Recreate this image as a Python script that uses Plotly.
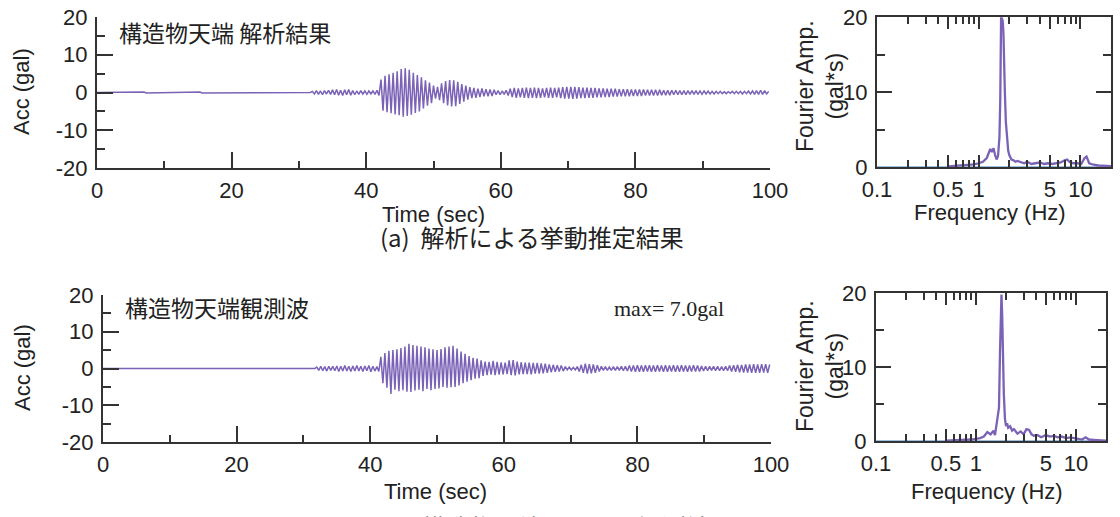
import plotly.graph_objects as go
import numpy as np

# ---------------- data ----------------
# acceleration time histories (gal); quiet part then oscillating part sampled every ACC_DT s from ACC_T0
PRE_T = [0.0, 7.0, 7.3, 15.3, 15.6, 31.7]
PRE_ACC_TOP = [0.0, 0.1, -0.1, 0.1, -0.1, 0.0]
PRE_ACC_BOT = [0.0, 0.0, 0.0, 0.0, 0.0, 0.0]
ACC_T0 = 32.0
ACC_DT = 0.3

ACC_TOP = [
    0.3, -0.4, 0.5, -0.5, 0.4, -0.6, 0.5, -0.4, 0.6, -0.5,
    0.7, -0.6, 0.8, -0.7, 0.6, -0.8, 0.7, -0.6, 0.8, -0.7,
    0.5, -0.6, 0.4, -0.5, 0.5, -0.4, 0.4, -0.5, 0.4, -0.4,
    0.4, -0.5, 0.6, -0.8, 3.4, -4.8, 4.4, -5.2, 4.8, -5.5,
    5.2, -5.8, 5.6, -6.0, 6.2, -6.4, 6.4, -6.2, 6.0, -5.9,
    5.2, -5.4, 4.6, -5.0, 4.0, -4.2, 3.2, -3.5, 2.6, -2.8,
    1.8, -1.6, 1.5, -2.0, 2.4, -2.8, 3.0, -3.4, 3.3, -3.7,
    3.2, -3.6, 2.8, -3.0, 2.2, -2.4, 1.8, -1.9, 1.4, -1.5,
    1.2, -1.4, 1.0, -1.2, 1.1, -1.0, 0.9, -1.0, 0.8, -0.9,
    0.7, -0.6, 0.5, -0.6, 0.4, -0.5, 0.6, -0.8, 1.0, -1.2,
    1.2, -1.4, 1.1, -1.3, 1.2, -1.4, 1.3, -1.5, 1.2, -1.4,
    1.3, -1.5, 1.2, -1.4, 1.1, -1.3, 1.2, -1.4, 1.3, -1.4,
    1.2, -1.3, 1.3, -1.5, 1.4, -1.6, 1.5, -1.6, 1.5, -1.7,
    1.5, -1.6, 1.4, -1.5, 1.3, -1.5, 1.3, -1.4, 1.2, -1.4,
    1.2, -1.3, 1.1, -1.3, 1.1, -1.2, 1.0, -1.2, 1.0, -1.1,
    1.0, -1.1, 0.9, -1.0, 0.9, -1.0, 0.9, -1.0, 0.8, -0.9,
    0.8, -0.9, 0.8, -0.9, 0.8, -0.8, 0.7, -0.8, 0.7, -0.8,
    0.7, -0.8, 0.7, -0.7, 0.6, -0.7, 0.6, -0.7, 0.6, -0.6,
    0.6, -0.6, 0.5, -0.6, 0.5, -0.6, 0.5, -0.5, 0.5, -0.5,
    0.5, -0.5, 0.4, -0.5, 0.4, -0.4, 0.4, -0.4, 0.3, -0.4,
    0.3, -0.3, 0.3, -0.3, 0.2, -0.3, 0.2, -0.2, 0.3, -0.3,
    0.3, -0.3, 0.3, -0.4, 0.3, -0.3, 0.4, -0.4, 0.4, -0.5,
    0.5, -0.5, 0.6, -0.5, 0.5, -0.4, 0.3,
]

ACC_BOT = [
    0.4, -0.5, 0.6, -0.6, 0.5, -0.7, 0.6, -0.5, 0.6, -0.6,
    0.7, -0.8, 0.6, -0.7, 0.8, -0.7, 0.6, -0.8, 0.7, -0.7,
    0.8, -0.7, 0.6, -0.8, 0.7, -0.6, 0.8, -0.9, 0.6, -0.7,
    0.5, -0.8, 3.2, -4.0, 4.2, -5.2, 4.8, -6.9, 5.0, -5.8,
    5.2, -6.2, 5.6, -5.9, 6.0, -6.3, 6.7, -6.4, 6.4, -6.0,
    6.2, -5.8, 6.0, -6.2, 5.8, -5.6, 5.4, -5.9, 5.2, -5.6,
    5.0, -5.4, 5.3, -5.0, 5.8, -5.2, 6.0, -5.1, 6.2, -5.0,
    5.4, -4.6, 4.6, -4.0, 4.0, -3.6, 3.4, -3.2, 2.9, -2.8,
    2.7, -2.6, 2.2, -2.0, 1.9, -1.8, 1.8, -1.7, 2.1, -1.8,
    1.8, -1.7, 1.7, -1.6, 1.6, -1.5, 2.2, -1.8, 2.3, -1.9,
    1.9, -1.6, 1.7, -1.5, 1.6, -1.5, 1.6, -1.6, 1.5, -1.4,
    1.5, -1.4, 1.4, -1.3, 1.3, -1.2, 1.1, -1.0, 1.0, -0.9,
    0.9, -0.8, 0.8, -0.7, 0.5, -0.4, 0.4, -0.4, 0.3, -0.4,
    0.5, -0.8, 1.0, -1.2, 1.3, -1.4, 1.2, -1.3, 1.1, -1.2,
    0.9, -0.8, 0.6, -0.5, 0.5, -0.5, 0.4, -0.5, 0.5, -0.5,
    0.5, -0.5, 0.6, -0.6, 0.6, -0.7, 0.8, -0.8, 0.8, -0.9,
    0.9, -0.9, 0.8, -0.9, 0.9, -0.8, 0.9, -0.9, 0.8, -0.9,
    0.9, -0.8, 0.8, -0.9, 0.9, -0.9, 0.8, -0.8, 0.9, -0.9,
    0.8, -0.9, 0.9, -0.8, 0.8, -0.9, 0.8, -0.8, 0.9, -0.8,
    0.8, -0.8, 0.7, -0.7, 0.6, -0.6, 0.6, -0.5, 0.6, -0.6,
    0.6, -0.6, 0.5, -0.6, 0.6, -0.6, 0.8, -0.8, 0.9, -0.9,
    1.0, -1.0, 1.0, -1.1, 1.1, -1.1, 1.1, -1.2, 1.2, -1.2,
    1.1, -1.2, 1.2, -1.1, 1.2, -1.2, 1.1,
]

# Fourier amplitude spectra (gal*s)
FREQ_TOP = [0.5, 0.6, 0.7, 0.8, 0.9, 1.0, 1.1, 1.2, 1.25, 1.3, 1.35, 1.4, 1.45, 1.5, 1.55,
            1.6, 1.63, 1.66, 1.69, 1.72, 1.75, 1.78, 1.81, 1.85, 1.9, 1.95, 2.0, 2.05, 2.1,
            2.2, 2.3, 2.4, 2.6, 2.8, 3.0, 3.3, 3.6, 4.0, 4.4, 4.8, 5.3, 5.8, 6.4, 7.0, 7.4,
            7.8, 8.5, 9.3, 10.2, 11.0, 11.5, 12.2, 13.5, 15.0, 17.0, 20.0]
AMP_TOP = [0.08, 0.15, 0.2, 0.3, 0.35, 0.5, 0.7, 1.2, 1.8, 2.4, 2.0, 2.5, 1.6, 1.0, 1.5,
           4.0, 9.0, 19.8, 19.8, 19.5, 18.0, 12.0, 9.8, 6.0, 3.5, 2.2, 1.6, 1.2, 1.0,
           0.9, 0.7, 0.8, 0.6, 0.5, 0.7, 0.4, 0.5, 0.6, 0.4, 0.5, 0.4, 0.5, 0.6, 0.9, 1.0,
           0.7, 0.5, 0.5, 0.4, 1.2, 1.4, 0.5, 0.3, 0.2, 0.2, 0.1]

FREQ_BOT = [0.5, 0.6, 0.7, 0.8, 0.9, 1.0, 1.1, 1.2, 1.3, 1.4, 1.5, 1.55, 1.6, 1.65, 1.7,
            1.74, 1.77, 1.8, 1.83, 1.86, 1.9, 1.95, 2.0, 2.05, 2.1, 2.2, 2.3, 2.4, 2.5, 2.6,
            2.8, 3.0, 3.2, 3.4, 3.6, 3.8, 4.1, 4.5, 5.0, 5.5, 6.0, 6.6, 7.2, 8.0, 8.8, 9.6,
            10.5, 11.5, 12.5, 13.5, 15.0, 17.0, 20.0]
AMP_BOT = [0.05, 0.08, 0.1, 0.15, 0.2, 0.3, 0.4, 0.6, 1.2, 0.9, 1.4, 0.8, 2.2, 2.8, 4.5,
           12.0, 19.8, 19.8, 17.0, 9.0, 6.4, 3.0, 2.0, 2.4, 1.8, 2.0, 1.4, 1.6, 1.2, 1.0,
           1.3, 0.9, 1.6, 1.5, 0.9, 0.7, 0.8, 0.5, 0.8, 0.6, 0.7, 0.5, 0.6, 0.4, 0.5, 0.4,
           0.3, 0.2, 0.5, 0.2, 0.15, 0.1, 0.05]

BASE_FREQ = [0.1, 20.0]
BASE_AMP = [0.0, 0.0]

TIME_TICKS = [0, 20, 40, 60, 80, 100]
ACC_TICKS = [-20, -10, 0, 10, 20]
ACC_TICK_TEXT = ["-20", "-10", "0", "10", "20"]
FREQ_TICKS = [0.1, 0.5, 1, 5, 10]
FREQ_TICK_TEXT = ["0.1", "0.5", "1", "5", "10"]
FREQ_MINOR = [0.2, 0.3, 0.4, 0.6, 0.7, 0.8, 0.9, 2, 3, 4, 6, 7, 8, 9, 20]
AMP_TICKS = [0, 10, 20]

# ---------------- styling ----------------
PURPLE = "#7a62b6"
LIGHTBLUE = "#9cc0e0"
AXC = "#333333"
FONT = "Liberation Sans, Arial, sans-serif"
CJK = "Noto Sans CJK JP"
W, H = 1120, 517

def series(acc):
    return list(PRE_T) + [ACC_T0 + i * ACC_DT for i in range(len(acc))]

fig = go.Figure()
fig.add_trace(go.Scatter(x=series(ACC_TOP), y=PRE_ACC_TOP + ACC_TOP, mode="lines",
                         line=dict(color=PURPLE, width=1.5), xaxis="x", yaxis="y"))
fig.add_trace(go.Scatter(x=BASE_FREQ, y=BASE_AMP, mode="lines",
                         line=dict(color=LIGHTBLUE, width=2), xaxis="x2", yaxis="y2"))
fig.add_trace(go.Scatter(x=FREQ_TOP, y=AMP_TOP, mode="lines",
                         line=dict(color=PURPLE, width=2.3), xaxis="x2", yaxis="y2"))
fig.add_trace(go.Scatter(x=series(ACC_BOT), y=PRE_ACC_BOT + ACC_BOT, mode="lines",
                         line=dict(color=PURPLE, width=1.5), xaxis="x3", yaxis="y3"))
fig.add_trace(go.Scatter(x=BASE_FREQ, y=BASE_AMP, mode="lines",
                         line=dict(color=LIGHTBLUE, width=2), xaxis="x4", yaxis="y4"))
fig.add_trace(go.Scatter(x=FREQ_BOT, y=AMP_BOT, mode="lines",
                         line=dict(color=PURPLE, width=2.3), xaxis="x4", yaxis="y4"))

def px_x(a, b):
    return [a / W, b / W]

def px_y(top, bottom):
    return [1 - bottom / H, 1 - top / H]

tickfont = dict(family=FONT, size=22, color="#222")

def time_x(anchor, dom):
    return dict(domain=dom, anchor=anchor, range=[0, 100], tickmode="array", tickvals=TIME_TICKS,
                ticks="inside", ticklen=16, tickwidth=2, tickcolor=AXC, showline=True,
                linewidth=2, linecolor=AXC, showgrid=False, zeroline=False, tickfont=tickfont,
                automargin=False, ticklabelstandoff=2,
                minor=dict(tickvals=[10, 30, 50, 70, 90], ticks="inside", ticklen=7,
                           tickwidth=2, tickcolor=AXC))

def time_y(anchor, dom):
    return dict(domain=dom, anchor=anchor, range=[-20, 20], tickmode="array", tickvals=ACC_TICKS,
                ticktext=ACC_TICK_TEXT,
                ticks="inside", ticklen=16, tickwidth=2, tickcolor=AXC, showline=True,
                linewidth=2, linecolor=AXC, showgrid=False, zeroline=False, tickfont=tickfont,
                ticklabelstandoff=3, automargin=False,
                minor=dict(tickvals=[-15, -5, 5, 15], ticks="inside", ticklen=8,
                           tickwidth=2, tickcolor=AXC))

def freq_x(anchor, dom):
    return dict(domain=dom, anchor=anchor, type="log", range=[-1, np.log10(20)],
                tickmode="array", tickvals=FREQ_TICKS, ticktext=FREQ_TICK_TEXT,
                ticks="inside", ticklen=12, tickwidth=2, tickcolor=AXC, showline=True,
                mirror="ticks", linewidth=2, linecolor=AXC, showgrid=False, zeroline=False,
                tickfont=tickfont, automargin=False, ticklabelstandoff=2,
                minor=dict(tickvals=FREQ_MINOR, ticks="inside", ticklen=7, tickwidth=2,
                           tickcolor=AXC, showgrid=False))

def freq_y(anchor, dom):
    return dict(domain=dom, anchor=anchor, range=[0, 20], tickmode="array", tickvals=AMP_TICKS,
                ticks="inside", ticklen=15, tickwidth=2, tickcolor=AXC, showline=True,
                mirror="ticks", linewidth=2, linecolor=AXC, showgrid=False, zeroline=False,
                tickfont=tickfont, ticklabelstandoff=3, automargin=False,
                minor=dict(tickvals=[5, 15], ticks="inside", ticklen=8, tickwidth=2,
                           tickcolor=AXC))

fig.update_layout(
    width=W, height=H, margin=dict(l=0, r=0, t=0, b=0, autoexpand=False),
    paper_bgcolor="white", plot_bgcolor="white", showlegend=False,
    xaxis=time_x("y", px_x(97, 770)), yaxis=time_y("x", px_y(17, 168)),
    xaxis2=freq_x("y2", px_x(877, 1111)), yaxis2=freq_y("x2", px_y(17, 167)),
    xaxis3=time_x("y3", px_x(103, 771)), yaxis3=time_y("x3", px_y(295, 442)),
    xaxis4=freq_x("y4", px_x(876, 1106)), yaxis4=freq_y("x4", px_y(293, 441)),
)

def ann(text, x, y, size=22, family=FONT, angle=0, xanchor="center", color="#222"):
    fig.add_annotation(text=text, x=x / W, y=1 - y / H, xref="paper", yref="paper",
                       showarrow=False, textangle=angle, xanchor=xanchor, yanchor="middle",
                       font=dict(family=family, size=size, color=color))

ann("Acc (gal)", 22, 92, angle=-90)
ann("Acc (gal)", 22, 368, angle=-90)
ann("Time (sec)", 433, 214)
ann("Time (sec)", 435, 491)
ann("Fourier Amp.<br>(gal*s)", 820, 86, size=23, angle=-90)
ann("Fourier Amp.<br>(gal*s)", 820, 366, size=23, angle=-90)
ann("Frequency (Hz)", 990, 212)
ann("Frequency (Hz)", 987, 491)
ann("構造物天端 解析結果", 117, 32, size=23, family=CJK, xanchor="left")
ann("構造物天端観測波", 123, 307, size=23, family=CJK, xanchor="left")
ann("max= 7.0gal", 612, 308, size=22, family="Liberation Serif, Times New Roman, serif",
    xanchor="left")
ann("(a)  解析による挙動推定結果", 378, 236, size=24, family=CJK, xanchor="left")
ann("(b)  構造物天端における観測結果", 378, 526, size=24, family=CJK, xanchor="left")

fig.write_html("out.html", config={"displayModeBar": False},
               post_script="document.body.style.margin='0';")
